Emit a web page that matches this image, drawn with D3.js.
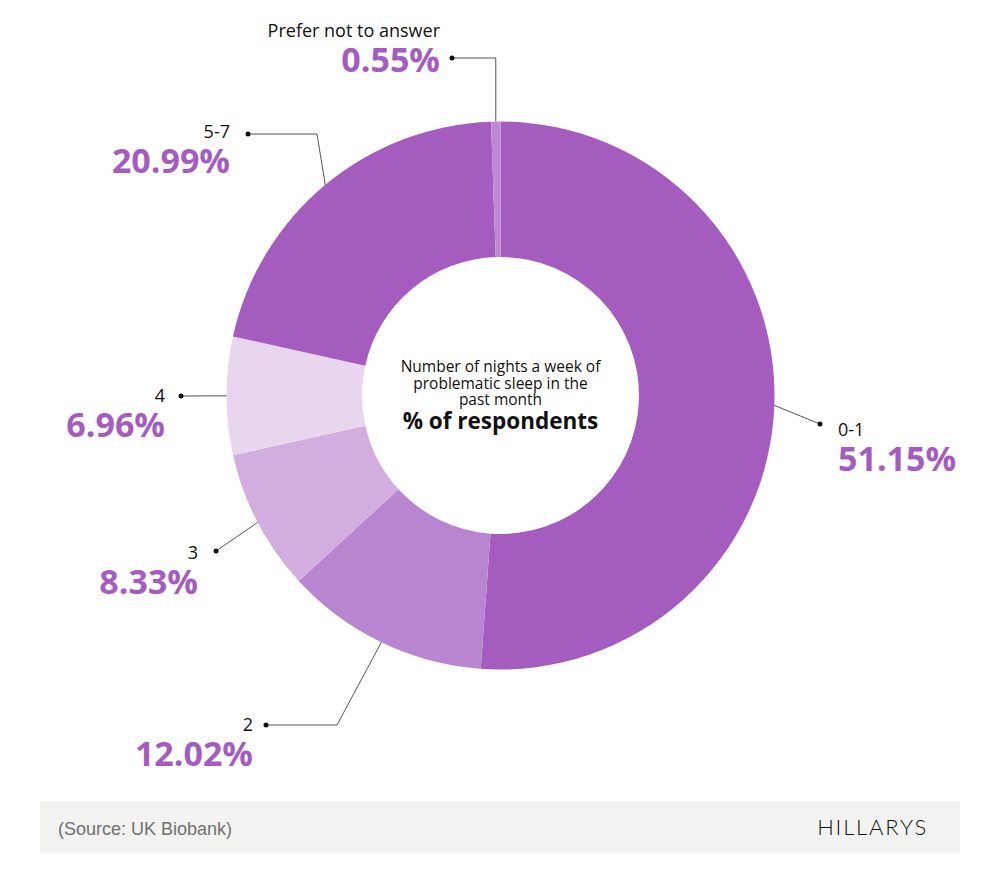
<!DOCTYPE html>
<html>
<head>
<meta charset="utf-8">
<script src="https://cdn.jsdelivr.net/npm/d3@7"></script>
<style>
  body { margin: 0; background: #fff; }
  svg { display: block; font-family: "Open Sans", sans-serif; }
</style>
</head>
<body>
<div class="chartContainer"></div>
<script>
// data
var categories = ['0-1', '2', '3', '4', '5-7', 'Prefer not to answer']
var values = [51.15, 12.02, 8.33, 6.96, 20.99, 0.55]
var sliceColors = ['#a45cbe', '#b985d0', '#d2aee0', '#e8d6ef', '#a45cbe', '#bf8ad3']

// label layout: dot, optional elbow x, text anchor
var labelLayout = [
    {dot: [820, 424], elbow: null, tx: 838, ty: 436, anchor: 'start'},
    {dot: [266, 725], elbow: 337, tx: 253, ty: 731, anchor: 'end'},
    {dot: [216, 551], elbow: null, tx: 198, ty: 559, anchor: 'end'},
    {dot: [181, 396], elbow: null, tx: 165, ty: 402, anchor: 'end'},
    {dot: [248, 134], elbow: 317, tx: 230, ty: 138, anchor: 'end'},
    {dot: [452, 58], elbow: 'vertical', tx: 440, ty: 37, anchor: 'end'}
]

var width = 1000, height = 890
var cx = 500.5, cy = 395.5
var outerR = 274, innerR = 138.5
var purple = '#a55cc0'

var svg = d3.select('.chartContainer').append('svg')
    .attr('width', width)
    .attr('height', height)
    .attr('viewBox', [0, 0, width, height])

var data = categories.map((c, i) => ({cat: c, value: values[i], color: sliceColors[i], lay: labelLayout[i]}))

var pie = d3.pie().sort(null).value(d => d.value)
var arc = d3.arc().innerRadius(innerR).outerRadius(outerR)

var g = svg.append('g').attr('transform', 'translate(' + cx + ',' + cy + ')')

var arcs = pie(data)

g.selectAll('path')
    .data(arcs)
    .enter()
    .append('path')
    .attr('d', arc)
    .style('fill', d => d.data.color)

// point on the outer rim, mid slice
function edgePoint(d) {
    var a = (d.startAngle + d.endAngle) / 2
    return [cx + outerR * Math.sin(a), cy - outerR * Math.cos(a)]
}

arcs.forEach(function(d) {
    var lay = d.data.lay
    var e = edgePoint(d)
    var pts = [lay.dot]
    if (lay.elbow === 'vertical') pts.push([e[0], lay.dot[1]])
    else if (lay.elbow != null) pts.push([lay.elbow, lay.dot[1]])
    pts.push(e)
    svg.append('path')
        .attr('d', d3.line()(pts))
        .style('fill', 'none')
        .style('stroke', '#555')
        .style('stroke-width', 1)
    svg.append('circle')
        .attr('cx', lay.dot[0])
        .attr('cy', lay.dot[1])
        .attr('r', 2.5)
        .style('fill', '#111')

    svg.append('text')
        .attr('x', lay.tx)
        .attr('y', lay.ty)
        .attr('text-anchor', lay.anchor)
        .style('font-size', '18px')
        .style('fill', '#111')
        .text(d.data.cat)
    svg.append('text')
        .attr('x', lay.tx)
        .attr('y', lay.ty + 35)
        .attr('text-anchor', lay.anchor)
        .style('font-size', '34px')
        .style('font-weight', 700)
        .style('fill', purple)
        .text(d.data.value.toFixed(2) + '%')
})

// centre title
var centreLines = ['Number of nights a week of', 'problematic sleep in the', 'past month']
svg.selectAll('.centreLine')
    .data(centreLines)
    .enter()
    .append('text')
    .attr('class', 'centreLine')
    .attr('x', cx)
    .attr('y', (d, i) => 372 + i * 16.5)
    .attr('text-anchor', 'middle')
    .style('font-size', '15.5px')
    .style('fill', '#111')
    .text(d => d)

svg.append('text')
    .attr('x', cx)
    .attr('y', 429)
    .attr('text-anchor', 'middle')
    .style('font-size', '22.5px')
    .style('font-weight', 700)
    .style('fill', '#111')
    .text('% of respondents')

// footer band
svg.append('rect')
    .attr('x', 40)
    .attr('y', 801)
    .attr('width', 920)
    .attr('height', 52)
    .style('fill', '#f2f2f1')

svg.append('text')
    .attr('x', 58)
    .attr('y', 835)
    .style('font-family', '"Liberation Sans Narrow", sans-serif')
    .style('font-weight', 400)
    .style('font-size', '18px')
    .style('fill', '#707070')
    .text('(Source: UK Biobank)')

svg.append('text')
    .attr('x', 928)
    .attr('y', 835)
    .attr('text-anchor', 'end')
    .style('font-family', 'Lato, sans-serif')
    .style('font-weight', 300)
    .style('font-size', '22px')
    .style('letter-spacing', '1.8px')
    .style('fill', '#111')
    .text('HILLARYS')
</script>
</body>
</html>
